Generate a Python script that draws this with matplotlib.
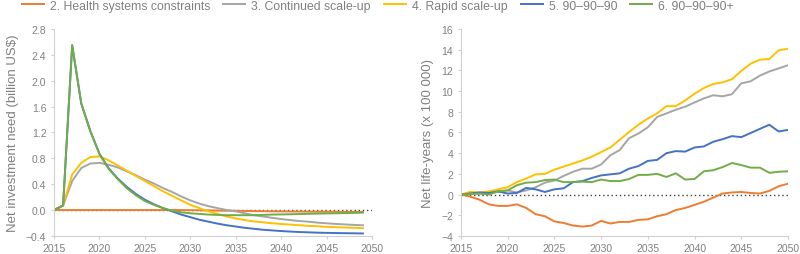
import matplotlib.pyplot as plt
import numpy as np

plt.rcParams['font.family'] = ['Liberation Sans', 'DejaVu Sans']

years_left = np.arange(2015, 2050)
years_right = np.arange(2015, 2051)

labels = ['2. Health systems constraints', '3. Continued scale-up', '4. Rapid scale-up',
          '5. 90\u201390\u201390', '6. 90\u201390\u201390+']
colors = ['#ED7D31', '#A5A5A5', '#FFC000', '#4472C4', '#70AD47']

# net investment need (billion US$), 2015-2049
inv_health = [0, 0, 0, 0, 0, 0, 0, 0, 0, 0, 0, 0, 0, 0, 0, -0.002, -0.004, -0.006, -0.008,
              -0.01, -0.012, -0.014, -0.016, -0.018, -0.02, -0.021, -0.022, -0.023, -0.024,
              -0.025, -0.026, -0.027, -0.028, -0.029, -0.03]
inv_continued = [0, 0.07, 0.45, 0.65, 0.72, 0.73, 0.7, 0.66, 0.6, 0.54, 0.47, 0.41, 0.34, 0.28,
                 0.21, 0.15, 0.1, 0.06, 0.03, 0.0, -0.02, -0.05, -0.08, -0.1, -0.12, -0.14,
                 -0.155, -0.17, -0.18, -0.195, -0.205, -0.215, -0.222, -0.23, -0.235]
inv_rapid = [0, 0.07, 0.55, 0.73, 0.82, 0.83, 0.77, 0.69, 0.61, 0.53, 0.45, 0.37, 0.29, 0.22,
             0.15, 0.08, 0.03, -0.02, -0.06, -0.1, -0.13, -0.155, -0.175, -0.19, -0.205,
             -0.215, -0.225, -0.235, -0.245, -0.25, -0.26, -0.265, -0.27, -0.275, -0.28]
inv_909090 = [0, 0.07, 2.55, 1.65, 1.22, 0.87, 0.65, 0.49, 0.36, 0.25, 0.16, 0.09, 0.03, -0.02,
              -0.07, -0.11, -0.15, -0.18, -0.21, -0.235, -0.255, -0.275, -0.29, -0.305,
              -0.315, -0.325, -0.333, -0.34, -0.345, -0.35, -0.353, -0.356, -0.358, -0.36, -0.362]
inv_909090p = [0, 0.07, 2.55, 1.65, 1.22, 0.87, 0.64, 0.48, 0.34, 0.23, 0.14, 0.08, 0.03, -0.01,
               -0.035, -0.05, -0.06, -0.07, -0.075, -0.08, -0.08, -0.08, -0.08, -0.075, -0.07,
               -0.068, -0.065, -0.062, -0.058, -0.055, -0.052, -0.05, -0.047, -0.044, -0.04]

# net life-years (x 100 000), 2015-2050
ly_health = [0, -0.2, -0.5, -0.95, -1.1, -1.1, -0.95, -1.3, -1.9, -2.1, -2.6, -2.75, -3.0, -3.1,
             -3.0, -2.55, -2.8, -2.65, -2.65, -2.45, -2.4, -2.1, -1.9, -1.5, -1.3, -1.0, -0.7,
             -0.3, 0.1, 0.2, 0.25, 0.15, 0.1, 0.35, 0.8, 1.05]
ly_continued = [0, 0.1, 0.1, 0.1, 0.3, 0.4, 0.2, 0.4, 0.7, 1.15, 1.35, 1.8, 2.2, 2.5, 2.5, 2.9,
                3.8, 4.3, 5.45, 5.9, 6.5, 7.5, 7.85, 8.2, 8.5, 8.9, 9.3, 9.6, 9.5, 9.7, 10.75,
                10.95, 11.5, 11.9, 12.2, 12.5]
ly_rapid = [0, 0.25, 0.2, 0.3, 0.5, 0.7, 1.2, 1.55, 1.95, 2.0, 2.4, 2.7, 3.0, 3.3, 3.65, 4.1,
            4.55, 5.3, 6.05, 6.75, 7.35, 7.85, 8.55, 8.55, 9.1, 9.75, 10.3, 10.7, 10.85, 11.15,
            11.95, 12.65, 13.05, 13.1, 13.95, 14.1]
ly_909090 = [0, 0.1, 0.2, 0.15, 0.3, 0.1, 0.15, 0.65, 0.5, 0.25, 0.5, 0.6, 1.2, 1.3, 1.6, 1.85,
             1.95, 2.05, 2.5, 2.75, 3.25, 3.35, 4.0, 4.2, 4.15, 4.55, 4.65, 5.1, 5.35, 5.65,
             5.55, 5.95, 6.35, 6.75, 6.1, 6.25]
ly_909090p = [0, 0.05, 0.1, 0.0, 0.3, 0.4, 0.9, 1.15, 1.2, 1.4, 1.45, 1.2, 1.2, 1.25, 1.2, 1.45,
              1.3, 1.3, 1.5, 1.9, 1.9, 2.0, 1.7, 2.05, 1.45, 1.5, 2.25, 2.35, 2.65, 3.05, 2.85,
              2.6, 2.6, 2.1, 2.2, 2.25]

inv_series = [inv_health, inv_continued, inv_rapid, inv_909090, inv_909090p]
ly_series = [ly_health, ly_continued, ly_rapid, ly_909090, ly_909090p]

fig = plt.figure(figsize=(8, 2.55), dpi=100)
ax1 = fig.add_axes([0.0675, 0.071, 0.3975, 0.811])
ax2 = fig.add_axes([0.576, 0.071, 0.409, 0.811])

txt = '#808080'
spine = '#D0D0D0'


def style(ax):
    for s in ['top', 'right']:
        ax.spines[s].set_visible(False)
    for s in ['left', 'bottom']:
        ax.spines[s].set_color(spine)
        ax.spines[s].set_linewidth(0.8)
    ax.tick_params(colors=spine, labelcolor=txt, labelsize=7.5, length=2.5, width=0.8)
    ax.tick_params(axis='x', pad=2.5)
    ax.tick_params(axis='y', pad=3)
    ax.set_xlim(2015, 2050)
    ax.set_xticks(range(2015, 2051, 5))


style(ax1)
ax1.plot([2015, 2050], [0, 0], ls=(0, (1, 2)), color='#404040', lw=1.0, zorder=1)
for vals, c, lab in zip(inv_series, colors, labels):
    ax1.plot(years_left, vals, color=c, lw=1.4, label=lab)
ax1.set_ylim(-0.4, 2.8)
ax1.set_yticks(np.arange(-0.4, 2.81, 0.4))
ax1.set_yticklabels(['\u22120.4' if v < -0.01 else f'{v:.1f}' for v in np.arange(-0.4, 2.81, 0.4)])
ax1.set_ylabel('Net investment need (billion US$)', color=txt, fontsize=9.5, labelpad=5)

style(ax2)
ax2.plot([2015, 2050], [0, 0], ls=(0, (1, 2)), color='#404040', lw=1.0, zorder=1)
for vals, c in zip(ly_series, colors):
    ax2.plot(years_right, vals, color=c, lw=1.4)
ax2.set_ylim(-4, 16)
ax2.set_yticks(range(-4, 17, 2))
ax2.set_yticklabels([f'\u2212{-v}' if v < 0 else str(v) for v in range(-4, 17, 2)])
ax2.set_ylabel('Net life-years (x 100 000)', color=txt, fontsize=9.5, labelpad=5)

handles, labs = ax1.get_legend_handles_labels()
leg = fig.legend(handles, labs, loc='upper left', bbox_to_anchor=(0.027, 0.998), ncol=5,
                 frameon=False, fontsize=8.8, handlelength=1.8, columnspacing=1.07,
                 handletextpad=0.5, borderpad=0, borderaxespad=0)
for t in leg.get_texts():
    t.set_color(txt)

fig.savefig('out.png', dpi=100)
